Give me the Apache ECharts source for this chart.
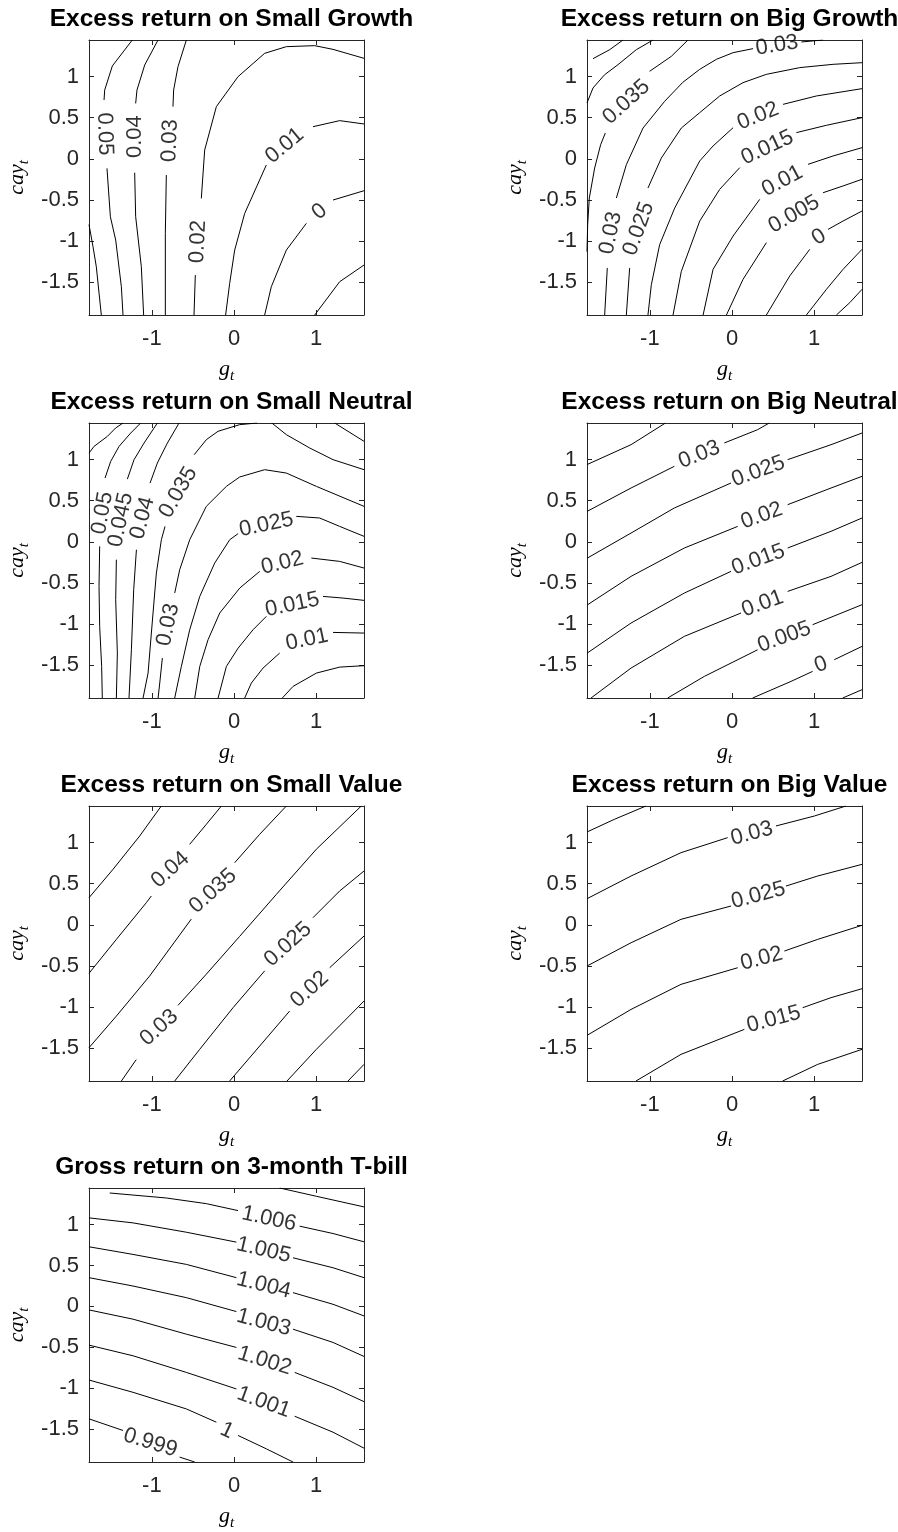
<!DOCTYPE html>
<html>
<head>
<meta charset="utf-8">
<script src="https://cdn.jsdelivr.net/npm/echarts@6/dist/echarts.min.js"></script>
<style>
html,body{margin:0;padding:0;background:#fff;}
#chart{width:898px;height:1532px;}
</style>
</head>
<body>
<div id="chart"></div>
<script>
// ---------- axes ----------
const gRange = [-1.765, 1.582];
const cayRange = [-1.9, 1.446];
const xTicks = [-1, 0, 1];
const yTicks = [-1.5, -1, -0.5, 0, 0.5, 1];
const titles = [
  'Excess return on Small Growth', 'Excess return on Big Growth',
  'Excess return on Small Neutral', 'Excess return on Big Neutral',
  'Excess return on Small Value', 'Excess return on Big Value',
  'Gross return on 3-month T-bill'
];

// ---------- Small Growth ----------
const sgLevels = ['0.06','0.05','0.04','0.03','0.02','0.01','0','-0.01'];
const sgPaths = [
  [[[-1.765,-0.80],[-1.716,-1.07],[-1.676,-1.313],[-1.615,-1.90]]],
  [[[-1.238,1.446],[-1.481,1.130],[-1.574,0.837],[-1.582,0.716]],[[-1.546,-0.116],[-1.505,-0.704],[-1.440,-0.988],[-1.371,-1.556],[-1.351,-1.90]]],
  [[[-0.925,1.446],[-1.087,1.142],[-1.181,0.837],[-1.197,0.675]],[[-1.209,-0.169],[-1.197,-0.704],[-1.128,-1.313],[-1.100,-1.90]]],
  [[[-0.580,1.446],[-0.682,1.121],[-0.735,0.837],[-0.743,0.635]],[[-0.824,-0.197],[-0.836,-0.907],[-0.836,-1.90]]],
  [[[-0.487,-1.90],[-0.471,-1.414]],[[-0.398,-0.481],[-0.357,0.107],[-0.215,0.635],[0.049,1.0],[0.373,1.284],[0.637,1.365],[0.982,1.377],[1.205,1.332],[1.582,1.223]]],
  [[[-0.102,-1.90],[-0.053,-1.516],[0.008,-1.110],[0.130,-0.664],[0.393,-0.075]],[[0.961,0.391],[1.286,0.465],[1.582,0.424]]],
  [[[0.373,-1.90],[0.454,-1.556],[0.637,-1.110],[0.880,-0.785]],[[1.205,-0.501],[1.582,-0.388]]],
  [[[0.982,-1.90],[1.286,-1.495],[1.582,-1.292]]]
];
const sgLabels = [[-1.574,0.302,'0.05',-88],[-1.201,0.270,'0.04',90],[-0.779,0.221,'0.03',88],[-0.438,-1.008,'0.02',87],[0.616,0.160,'0.01',40],[1.042,-0.643,'0',40]];

// ---------- Big Growth ----------
const bgLevels = ['0.045','0.04','0.035','0.03','0.025','0.02','0.015','0.01','0.005','0','-0.005','-0.01'];
const bgPaths = [
  [[[-1.692,1.219],[-1.489,1.328],[-1.327,1.446]]],
  [[[-1.765,0.68],[-1.692,0.862],[-1.55,1.024],[-1.388,1.146],[-1.165,1.328],[-0.962,1.446]]],
  [[[-1.765,-1.13],[-1.757,-0.80],[-1.737,-0.477],[-1.672,-0.112],[-1.599,0.172],[-1.542,0.314]],[[-1.003,1.065],[-0.739,1.247],[-0.536,1.446]]],
  [[[-1.550,-1.90],[-1.518,-1.329]],[[-1.408,-0.477],[-1.286,-0.071],[-1.083,0.375],[-0.820,0.700],[-0.60,0.93],[-0.393,1.089],[-0.190,1.211],[0.013,1.292],[0.256,1.341]],[[0.844,1.422],[1.108,1.446]]],
  [[[-1.286,-1.90],[-1.246,-1.329]],[[-1.023,-0.355],[-0.860,0.010],[-0.617,0.375],[-0.393,0.562],[-0.150,0.765],[0.134,0.927],[0.418,1.028],[0.824,1.110],[1.230,1.150],[1.582,1.170]]],
  [[[-1.023,-1.90],[-0.982,-1.532],[-0.881,-1.045],[-0.698,-0.599],[-0.393,-0.026],[-0.231,0.156],[0.013,0.379]],[[0.621,0.663],[1.027,0.765],[1.582,0.854]]],
  [[[-0.718,-1.90],[-0.617,-1.369],[-0.393,-0.757],[-0.150,-0.371],[0.094,-0.107]],[[0.783,0.319],[1.149,0.408],[1.582,0.501]]],
  [[[-0.352,-1.90],[-0.231,-1.345],[0.013,-0.939],[0.337,-0.493]],[[0.925,-0.067],[1.230,0.035],[1.582,0.136]]],
  [[[-0.068,-1.90],[0.134,-1.466],[0.418,-1.020]],[[1.108,-0.412],[1.351,-0.330],[1.582,-0.249]]],
  [[[0.418,-1.90],[0.702,-1.426],[0.946,-1.101]],[[1.169,-0.858],[1.351,-0.757],[1.582,-0.635]]],
  [[[0.905,-1.90],[1.149,-1.588],[1.351,-1.345],[1.582,-1.101]]],
  [[[1.270,-1.90],[1.433,-1.750],[1.582,-1.588]]]
];
const bgLabels = [[-1.286,0.691,'0.035',42],[-1.477,-0.903,'0.03',78],[-1.136,-0.850,'0.025',70],[0.548,1.381,'0.03',9],[0.317,0.521,'0.02',22],[0.431,0.136,'0.015',25],[0.613,-0.270,'0.01',28],[0.755,-0.675,'0.005',30],[1.059,-0.951,'0',32]];

// ---------- Small Neutral ----------
const snLevels = ['0.055','0.05','0.045','0.04','0.04','0.035','0.03','0.025','0.02','0.015','0.01','0.005'];
const snPaths = [
  [[[-1.765,1.080],[-1.704,1.161],[-1.542,1.283],[-1.441,1.385],[-1.351,1.446]]],
  [[[-1.603,-1.90],[-1.611,-1.516],[-1.635,-1.029],[-1.643,-0.542],[-1.635,-0.055]],[[-1.570,0.776],[-1.501,0.979],[-1.399,1.162],[-1.257,1.324],[-1.136,1.446]]],
  [[[-1.432,-1.90],[-1.420,-1.353],[-1.440,-0.704],[-1.432,-0.217]],[[-1.298,0.763],[-1.217,0.999],[-1.095,1.202],[-0.933,1.446]]],
  [[[-1.278,-1.90],[-1.249,-1.313],[-1.221,-0.583],[-1.188,-0.096]],[[-1.022,0.715],[-0.933,0.959],[-0.811,1.202],[-0.669,1.446]]],
  [[[1.225,1.446],[1.582,1.223]]],
  [[[-1.107,-1.90],[-1.046,-1.597],[-1.006,-1.110],[-0.945,-0.380],[-0.884,0.026],[-0.840,0.188]],[[-0.485,1.060],[-0.337,1.243],[-0.195,1.345],[0.069,1.426],[0.28,1.446]],[[0.46,1.446],[0.637,1.304],[0.921,1.142],[1.205,1.0],[1.582,0.878]]],
  [[[-0.924,-1.90],[-0.904,-1.718],[-0.872,-1.414]],[[-0.722,-0.623],[-0.661,-0.339],[-0.539,0.026],[-0.337,0.432],[-0.093,0.675],[0.069,0.789],[0.373,0.878],[0.637,0.837],[1.002,0.675],[1.582,0.432]]],
  [[[-0.722,-1.90],[-0.641,-1.516],[-0.539,-1.069],[-0.417,-0.664],[-0.235,-0.258],[-0.052,0.026],[0.05,0.10]],[[0.758,0.310],[1.042,0.290],[1.286,0.188],[1.582,0.067]]],
  [[[-0.478,-1.90],[-0.417,-1.516],[-0.316,-1.191],[-0.174,-0.866],[0.070,-0.562],[0.313,-0.359]],[[0.941,-0.197],[1.286,-0.238],[1.582,-0.319]]],
  [[[-0.194,-1.90],[-0.093,-1.516],[0.050,-1.293],[0.232,-1.069],[0.394,-0.907]],[[1.083,-0.664],[1.326,-0.684],[1.582,-0.712]]],
  [[[0.130,-1.90],[0.211,-1.718],[0.353,-1.536],[0.556,-1.353]],[[1.205,-1.102],[1.582,-1.110]]],
  [[[0.588,-1.90],[0.718,-1.759],[1.002,-1.597],[1.286,-1.524],[1.582,-1.507]]]
];
const snLabels = [[-1.602,0.350,'0.05',80],[-1.379,0.268,'0.045',78],[-1.115,0.289,'0.04',75],[-0.678,0.602,'0.035',60],[-0.803,-1.008,'0.03',78],[0.393,0.209,'0.025',12],[0.588,-0.258,'0.02',14],[0.710,-0.765,'0.015',12],[0.888,-1.191,'0.01',12]];

// ---------- Big Neutral ----------
const bnLevels = ['0.035','0.03','0.025','0.02','0.015','0.01','0.005','0','-0.005'];
const bnPaths = [
  [[[-1.765,0.94],[-1.229,1.182],[-0.81,1.446]]],
  [[[-1.765,0.37],[-1.229,0.655],[-0.702,0.919]],[[-0.094,1.203],[0.312,1.365],[0.454,1.446]]],
  [[[-1.765,-0.20],[-1.229,0.107],[-0.702,0.412],[-0.012,0.716]],[[0.677,1.0],[1.205,1.182],[1.582,1.324]]],
  [[[-1.765,-0.77],[-1.229,-0.420],[-0.580,-0.075],[0.069,0.188]],[[0.677,0.452],[1.205,0.655],[1.582,0.797]]],
  [[[-1.765,-1.355],[-1.229,-0.988],[-0.580,-0.623],[-0.012,-0.359]],[[0.677,-0.075],[1.205,0.128],[1.582,0.290]]],
  [[[-1.716,-1.90],[-1.229,-1.536],[-0.580,-1.150],[0.109,-0.866]],[[0.677,-0.603],[1.205,-0.420],[1.582,-0.250]]],
  [[[-0.783,-1.90],[-0.337,-1.637],[0.312,-1.313]],[[0.981,-1.008],[1.582,-0.765]]],
  [[[0.251,-1.90],[0.718,-1.698],[0.981,-1.576]],[[1.245,-1.434],[1.582,-1.272]]],
  [[[1.347,-1.90],[1.582,-1.799]]]
];
const bnLabels = [[-0.398,1.061,'0.03',22],[0.320,0.858,'0.025',20],[0.361,0.318,'0.02',20],[0.320,-0.217,'0.015',20],[0.373,-0.753,'0.01',20],[0.637,-1.158,'0.005',20],[1.083,-1.495,'0',20]];

// ---------- Small Value ----------
const svLevels = ['0.045','0.04','0.035','0.03','0.025','0.02','0.015','0.01'];
const svPaths = [
  [[[-1.765,0.33],[-1.473,0.675],[-1.148,1.081],[-0.885,1.446]]],
  [[[-1.765,-0.59],[-1.432,-0.177],[-1.067,0.270],[-1.006,0.351]],[[-0.540,0.979],[-0.337,1.223],[-0.154,1.446]]],
  [[[-1.765,-1.495],[-1.432,-1.110],[-1.027,-0.623],[-0.520,0.07]],[[0.008,0.756],[0.312,1.101],[0.637,1.446]]],
  [[[-1.371,-1.90],[-1.19,-1.64]],[[-0.682,-0.98],[-0.337,-0.60],[0.069,-0.14],[0.515,0.37],[1.002,0.92],[1.549,1.446]]],
  [[[-0.722,-1.90],[-0.418,-1.515],[-0.012,-1.008],[0.373,-0.56]],[[0.961,0.087],[1.286,0.412],[1.582,0.655]]],
  [[[-0.053,-1.90],[0.312,-1.475],[0.677,-1.049]],[[1.164,-0.522],[1.582,-0.136]]],
  [[[0.645,-1.90],[1.002,-1.515],[1.582,-0.927]]],
  [[[1.387,-1.90],[1.582,-1.698]]]
];
const svLabels = [[-0.775,0.670,'0.04',42],[-0.256,0.412,'0.035',42],[-0.913,-1.252,'0.03',42],[0.657,-0.238,'0.025',42],[0.921,-0.785,'0.02',42]];

// ---------- Big Value ----------
const bvLevels = ['0.035','0.03','0.025','0.02','0.015','0.01'];
const bvPaths = [
  [[[-1.765,1.13],[-1.432,1.284],[-1.047,1.446]]],
  [[[-1.765,0.318],[-1.229,0.594],[-0.621,0.878],[-0.053,1.061]],[[0.535,1.203],[1.002,1.324],[1.387,1.446]]],
  [[[-1.765,-0.501],[-1.229,-0.218],[-0.621,0.067],[-0.012,0.229]],[[0.657,0.472],[1.042,0.594],[1.582,0.736]]],
  [[[-1.765,-1.345],[-1.229,-1.029],[-0.621,-0.724],[0.069,-0.522]],[[0.637,-0.319],[1.042,-0.177],[1.582,-0.006]]],
  [[[-1.169,-1.90],[-0.621,-1.576],[0.150,-1.272]],[[0.860,-1.008],[1.205,-0.886],[1.582,-0.777]]],
  [[[0.616,-1.90],[1.042,-1.698],[1.582,-1.515]]]
];
const bvLabels = [[0.24,1.11,'0.03',15],[0.320,0.359,'0.025',15],[0.361,-0.412,'0.02',15],[0.507,-1.150,'0.015',15]];

// ---------- 3-month T-bill ----------
const tbLevels = ['1.007','1.006','1.005','1.004','1.003','1.002','1.001','1','0.999'];
const tbPaths = [
  [[[0.556,1.446],[1.002,1.345],[1.582,1.215]]],
  [[[-1.513,1.385],[-0.824,1.324],[-0.337,1.255],[0.049,1.170]],[[0.799,0.980],[1.205,0.890],[1.582,0.789]]],
  [[[-1.765,1.081],[-1.229,1.020],[-0.580,0.906],[0.029,0.785]],[[0.718,0.594],[1.205,0.472],[1.582,0.351]]],
  [[[-1.765,0.728],[-1.229,0.635],[-0.580,0.513],[0.029,0.351]],[[0.718,0.168],[1.205,0.026],[1.582,-0.116]]],
  [[[-1.765,0.351],[-1.229,0.249],[-0.580,0.107],[0.029,-0.063]],[[0.718,-0.278],[1.205,-0.440],[1.582,-0.611]]],
  [[[-1.765,-0.043],[-1.229,-0.156],[-0.580,-0.339],[0.029,-0.501]],[[0.738,-0.806],[1.205,-0.988],[1.582,-1.163]]],
  [[[-1.765,-0.473],[-1.229,-0.603],[-0.580,-0.806],[0.029,-1.008]],[[0.738,-1.341],[1.205,-1.536],[1.582,-1.731]]],
  [[[-1.765,-0.899],[-1.229,-1.049],[-0.580,-1.252],[-0.215,-1.414]],[[0.049,-1.576],[0.393,-1.739],[0.718,-1.90]]],
  [[[-1.765,-1.373],[-1.351,-1.515]],[[-0.662,-1.840],[-0.479,-1.90]]]
];
const tbLabels = [[0.426,1.069,'1.006',-12],[0.361,0.687,'1.005',-13],[0.361,0.257,'1.004',-14],[0.361,-0.197,'1.003',-15],[0.373,-0.663,'1.002',-17],[0.361,-1.171,'1.001',-20],[-0.086,-1.516,'1',-25],[-1.019,-1.665,'0.999',-17]];

// ---------- build ----------
const allLevels = [sgLevels, bgLevels, snLevels, bnLevels, svLevels, bvLevels, tbLevels];
const allPaths = [sgPaths, bgPaths, snPaths, bnPaths, svPaths, bvPaths, tbPaths];
const allLabels = [sgLabels, bgLabels, snLabels, bnLabels, svLabels, bvLabels, tbLabels];

const colLeft = [89, 587];
const rowTop = [40, 423, 806, 1188];
const boxSize = 275;
const axisColor = '#262626';
const sansFont = 'Liberation Sans, Arial, Helvetica, sans-serif';
const mathFont = 'Liberation Serif, Times New Roman, serif';

const mathRich = {
  v: {fontFamily: mathFont, fontStyle: 'italic', fontSize: 22, lineHeight: 30, color: '#000'},
  s: {fontFamily: mathFont, fontStyle: 'italic', fontSize: 15, lineHeight: 14, verticalAlign: 'bottom', color: '#000'}
};

const option = {
  animation: false,
  backgroundColor: '#fff',
  title: [], grid: [], xAxis: [], yAxis: [], series: []
};

for (let i = 0; i < 7; i++) {
  const left = colLeft[i % 2];
  const top = rowTop[Math.floor(i / 2)];
  option.title.push({
    text: titles[i], left: left + boxSize / 2, top: top - 38, textAlign: 'center',
    textStyle: {fontFamily: sansFont, fontSize: 24.5, fontWeight: 'bold', color: '#000'}
  });
  option.grid.push({left: left, top: top, width: boxSize, height: boxSize, show: false});

  const tickStyle = {show: true, inside: true, length: 5, lineStyle: {color: axisColor, width: 1}};
  const lineStyle = {show: true, onZero: false, lineStyle: {color: axisColor, width: 1}};
  option.xAxis.push({
    type: 'value', gridIndex: i, min: gRange[0], max: gRange[1], position: 'bottom',
    axisLine: lineStyle,
    axisTick: Object.assign({customValues: xTicks}, tickStyle),
    axisLabel: {show: true, customValues: xTicks, margin: 13, fontSize: 22, fontFamily: sansFont, color: axisColor},
    splitLine: {show: false},
    name: '{v|g}{s|t}', nameLocation: 'middle', nameGap: 39,
    nameTextStyle: {rich: mathRich}
  });
  option.xAxis.push({
    type: 'value', gridIndex: i, min: gRange[0], max: gRange[1], position: 'top',
    axisLine: lineStyle,
    axisTick: Object.assign({customValues: xTicks}, tickStyle),
    axisLabel: {show: false}, splitLine: {show: false}
  });
  option.yAxis.push({
    type: 'value', gridIndex: i, min: cayRange[0], max: cayRange[1], position: 'left',
    axisLine: lineStyle,
    axisTick: Object.assign({customValues: yTicks}, tickStyle),
    axisLabel: {show: true, customValues: yTicks, margin: 10, fontSize: 22, fontFamily: sansFont, color: axisColor},
    splitLine: {show: false},
    name: '{v|cay}{s|t}', nameLocation: 'middle', nameGap: 57,
    nameTextStyle: {rich: mathRich}
  });
  option.yAxis.push({
    type: 'value', gridIndex: i, min: cayRange[0], max: cayRange[1], position: 'right',
    axisLine: lineStyle,
    axisTick: Object.assign({customValues: yTicks}, tickStyle),
    axisLabel: {show: false}, splitLine: {show: false}
  });

  const lineData = [];
  allPaths[i].forEach((segs, k) => {
    segs.forEach(seg => lineData.push({name: allLevels[i][k], coords: seg}));
  });
  option.series.push({
    type: 'lines', coordinateSystem: 'cartesian2d', polyline: true,
    xAxisIndex: 2 * i, yAxisIndex: 2 * i, silent: true,
    lineStyle: {color: '#000', width: 1, opacity: 1},
    data: lineData
  });
  option.series.push({
    type: 'scatter', xAxisIndex: 2 * i, yAxisIndex: 2 * i, silent: true,
    symbolSize: 1, itemStyle: {color: 'rgba(0,0,0,0)'},
    label: {show: true, position: 'inside', fontSize: 22, fontFamily: sansFont, color: '#000', textBorderWidth: 0},
    emphasis: {disabled: true},
    data: allLabels[i].map(l => ({
      value: [l[0], l[1]],
      label: {formatter: l[2], rotate: l[3]}
    }))
  });
}

const chart = echarts.init(document.getElementById('chart'), null, {renderer: 'canvas'});
chart.setOption(option);
</script>
</body>
</html>
